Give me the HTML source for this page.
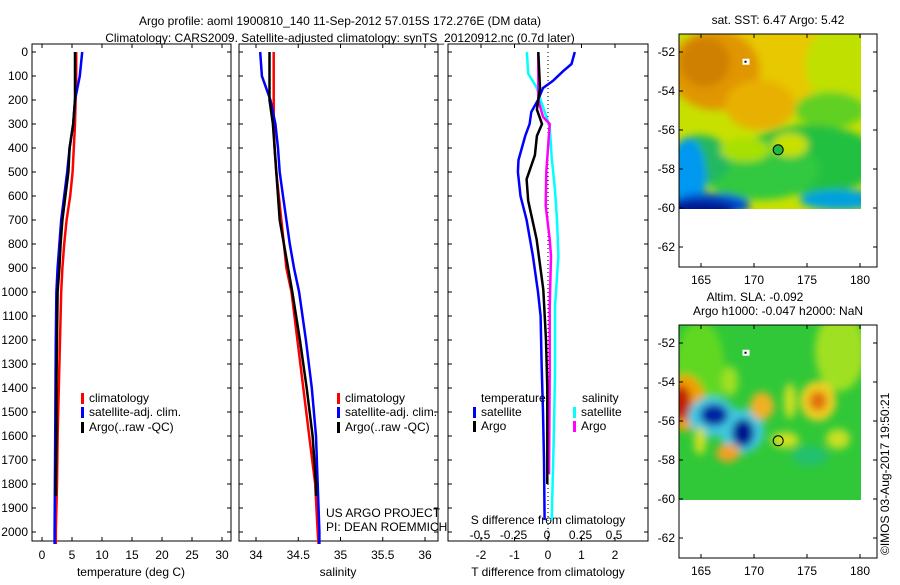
<!DOCTYPE html>
<html><head><meta charset="utf-8"><style>
html,body{margin:0;padding:0;background:#fff}
svg text{font-family:"Liberation Sans",sans-serif;font-size:12px;fill:#000}
</style></head><body>
<svg id="c" width="900" height="580" viewBox="0 0 900 580" xmlns="http://www.w3.org/2000/svg">
<defs>
<filter id="bl" x="-20%" y="-20%" width="140%" height="140%"><feGaussianBlur stdDeviation="4"/></filter>
<clipPath id="cp1"><rect x="679" y="34" width="182" height="175"/></clipPath>
<clipPath id="cp2"><rect x="679" y="325" width="182" height="175"/></clipPath>
</defs>
<text x="340" y="25" text-anchor="middle" font-size="13">Argo profile: aoml 1900810_140 11-Sep-2012 57.015S 172.276E (DM data)</text>
<text x="340" y="42" text-anchor="middle" font-size="13">Climatology: CARS2009. Satellite-adjusted climatology: synTS_20120912.nc (0.7d later)</text>
<g id="g"></g>
</svg>
<script>
// ---- data ----
var tDepth=[0,100,200,300,400,500,600,700,800,900,1000,1200,1400,1600,1800,2000,2050];
var tClim=[5.7,5.7,5.6,5.5,5.3,5.1,4.7,4.1,3.7,3.4,3.2,3.0,2.8,2.6,2.5,2.3,2.3];
var tSat=[6.7,6.3,5.5,5.2,4.6,4.2,3.7,3.2,2.9,2.6,2.4,2.3,2.25,2.2,2.15,2.1,2.1];
var argoDepth=[0,100,200,300,400,500,600,700,800,900,1000,1200,1400,1600,1800,1850];
var tArgo=[5.5,5.5,5.5,5.2,4.6,4.4,3.9,3.4,3.1,2.9,2.6,2.5,2.4,2.4,2.3,2.3];
var sClim=[34.21,34.21,34.21,34.21,34.22,34.24,34.27,34.30,34.33,34.36,34.42,34.49,34.56,34.63,34.70,34.73,34.74];
var sSat=[34.05,34.07,34.17,34.23,34.26,34.28,34.32,34.36,34.40,34.45,34.51,34.59,34.66,34.71,34.73,34.75,34.75];
var sArgo=[34.16,34.16,34.16,34.20,34.22,34.24,34.26,34.28,34.33,34.38,34.43,34.52,34.60,34.67,34.71,34.71];
var dDepth=[0,50,80,120,150,200,250,300,350,450,500,600,700,850,1000,1100,1300,1500,1700,1950];
var dTSat=[0.8,0.7,0.45,0.15,-0.15,-0.3,-0.5,-0.55,-0.68,-0.88,-0.9,-0.82,-0.64,-0.45,-0.3,-0.22,-0.19,-0.15,-0.12,-0.1];
var dTArgoDepth=[0,150,240,300,350,430,530,620,780,990,1200,1400,1800];
var dTArgo=[-0.29,-0.24,-0.33,-0.18,-0.33,-0.39,-0.64,-0.59,-0.34,-0.14,-0.06,-0.02,-0.02];
var dSSatDepth=[0,90,145,230,310,440,575,700,850,1060,1340,1620,1950];
var dSSat=[-0.15,-0.14,-0.08,-0.03,0.02,0.035,0.06,0.075,0.085,0.06,0.06,0.05,0.035];
var dSArgoDepth=[0,200,270,300,500,640,780,850,1060,1340,1760];
var dSArgo=[-0.065,-0.065,-0.03,0.02,-0.005,-0.01,0.02,0.03,0.02,0.02,0.015];
var depthTicks=[0,100,200,300,400,500,600,700,800,900,1000,1100,1200,1300,1400,1500,1600,1700,1800,1900,2000];
var tTicks=[0,5,10,15,20,25,30];
var sTicks=[34,34.5,35,35.5,36];
var sTickLabels=["34","34.5","35","35.5","36"];
var dtTicks=[-2,-1,0,1,2];
var dsTicks=[-0.5,-0.25,0,0.25,0.5];
var dsTickLabels=["-0.5","-0.25","0","0.25","0.5"];
var lonTicks=[165,170,175,180];
var latTicks=[-52,-54,-56,-58,-60,-62];
var argoLon=172.28, argoLat=-57.015;

// ---- scales ----
function yD(d){return 52+d*0.24;}
function xT(v){return 42+v*6;}
function xS(v){return 256+(v-34)*84.5;}
function xDT(v){return 548+v*33.5;}
function xDS(v){return 547+v*134;}
function xLon(v){return 754+(v-170)*10.6;}
function yLat(v,off){return 52+off+(-52-v)*19.5;}

var NS="http://www.w3.org/2000/svg", G=document.getElementById('g');
function mk(tag,at,par){var e=document.createElementNS(NS,tag);for(var k in at)e.setAttribute(k,at[k]);(par||G).appendChild(e);return e;}
function txt(x,y,s,anc,par){var e=mk('text',{x:x,y:y,'text-anchor':anc||'start'},par);e.textContent=s;return e;}

var panels=[[32,231],[239,438],[448,648]];
panels.forEach(function(p,i){
  var r=mk('rect',{x:p[0],y:44,width:p[1]-p[0],height:497,fill:'none',stroke:'#000','stroke-width':1});
  
  
  depthTicks.forEach(function(d){
    mk('line',{x1:p[0],x2:p[0]+4,y1:yD(d),y2:yD(d),stroke:'#000'});
    mk('line',{x1:p[1]-4,x2:p[1],y1:yD(d),y2:yD(d),stroke:'#000'});
  });
});
depthTicks.forEach(function(d){
  var t=txt(28,yD(d)+4,String(d),'end');
  
  
});
function xticks(ticks,labels,f,y0,lab){
  ticks.forEach(function(v,i){
    mk('line',{x1:f(v),x2:f(v),y1:541,y2:537,stroke:'#000'});
    mk('line',{x1:f(v),x2:f(v),y1:44,y2:48,stroke:'#000'});
    var t=txt(f(v),y0,labels[i],'middle');
    
    
  });
}
xticks(tTicks,tTicks.map(String),xT,559,'temperature-tick-label');
xticks(sTicks,sTickLabels,xS,559,'salinity-tick-label');
xticks(dtTicks,dtTicks.map(String),xDT,559,'t-diff-tick-label');
dsTicks.forEach(function(v,i){
  var t=txt(xDS(v),539,dsTickLabels[i],'middle');
  
  
});
var at;
at=txt(131,576,'temperature (deg C)','middle');
at=txt(338,576,'salinity','middle');
at=txt(548,576,'T difference from climatology','middle');
at=txt(548,524,'S difference from climatology','middle');
at=txt(326,517,'US ARGO PROJECT');
at=txt(326,531,'PI: DEAN ROEMMICH');

var zl=mk('line',{x1:xDT(0),x2:xDT(0),y1:52,y2:541,stroke:'#000','stroke-dasharray':'1,3'});



function line(xs,ds,fx,col,name){
  var pts=xs.map(function(v,i){return fx(v).toFixed(1)+','+yD(ds[i]).toFixed(1);}).join(' ');
  var e=mk('polyline',{points:pts,fill:'none',stroke:col,'stroke-width':2.5});
  
  
}
line(tClim,tDepth,xT,'#f00','temp-climatology-line');
line(tSat,tDepth,xT,'#00f','temp-satellite-line');
line(tArgo,argoDepth,xT,'#000','temp-argo-line');
line(sClim,tDepth,xS,'#f00','sal-climatology-line');
line(sSat,tDepth,xS,'#00f','sal-satellite-line');
line(sArgo,argoDepth,xS,'#000','sal-argo-line');
line(dSSat,dSSatDepth,xDS,'#0ff','sdiff-satellite-line');
line(dSArgo,dSArgoDepth,xDS,'#f0f','sdiff-argo-line');
line(dTSat,dDepth,xDT,'#00f','tdiff-satellite-line');
line(dTArgo,dTArgoDepth,xDT,'#000','tdiff-argo-line');

function leg(x,y,col,s,name){
  var m=mk('rect',{x:x,y:y-9,width:3,height:11,fill:col});
  
  
  var t=txt(x+8,y,s);
  
  
}
[[81,0],[337,1]].forEach(function(a){
  leg(a[0],402,'#f00','climatology','legend-climatology');
  leg(a[0],416,'#00f','satellite-adj. clim.','legend-satellite-adj');
  leg(a[0],431,'#000','Argo(..raw -QC)','legend-argo');
});
at=txt(481,402,'temperature');
at=txt(582,402,'salinity');
leg(473,416,'#00f','satellite','legend-t-satellite');
leg(473,430,'#000','Argo','legend-t-argo');
leg(573,416,'#0ff','satellite','legend-s-satellite');
leg(573,430,'#f0f','Argo','legend-s-argo');

// ---- maps ----
function mapFrame(off,title,blobs,base,dotFill,idx){
  var mg=mk('g',{});
  
  
  var hg=mk('g',{'clip-path':'url(#cp'+idx+')'},mg);
  mk('rect',{x:679,y:34+off,width:182,height:175,fill:base},hg);
  var bg=mk('g',{filter:'url(#bl)'},hg);
  blobs.forEach(function(b){mk('ellipse',{cx:b[0],cy:b[1]+off,rx:b[2],ry:b[3],fill:b[4]},bg);});
  mk('rect',{x:679,y:34+off,width:198,height:233,fill:'none',stroke:'#000'},mg);
  lonTicks.forEach(function(v){
    mk('line',{x1:xLon(v),x2:xLon(v),y1:267+off,y2:263+off,stroke:'#000'},mg);
    mk('line',{x1:xLon(v),x2:xLon(v),y1:34+off,y2:38+off,stroke:'#000'},mg);
    var t=txt(xLon(v),284+off,String(v),'middle',mg);
    
    
  });
  latTicks.forEach(function(v){
    var y=yLat(v,off);
    mk('line',{x1:679,x2:683,y1:y,y2:y,stroke:'#000'},mg);
    mk('line',{x1:873,x2:877,y1:y,y2:y,stroke:'#000'},mg);
    var t=txt(675,y+4,String(v),'end',mg);
    
    
  });
  mk('rect',{x:xLon(169.2)-3,y:yLat(-52.5,off)-3,width:7,height:6,fill:'#fff'},mg);
  mk('rect',{x:xLon(169.2)-1,y:yLat(-52.5,off)-1,width:2,height:2,fill:'#000'},mg);
  var c=mk('circle',{cx:xLon(argoLon),cy:yLat(argoLat,off),r:5,fill:dotFill,stroke:'#000','stroke-width':1},mg);
  
  
  title.forEach(function(s,i){
    var x=(idx==2&&i==0)?755:778;
    var y=(idx==1)?24:off+10+14*i;
    var t=txt(x,y,s,'middle');
    
    
  });
}
mapFrame(0,['sat. SST: 6.47 Argo: 5.42'],[
 [770,70,110,45,'#e8c800'],[715,70,45,40,'#e09600'],[705,62,25,25,'#d08000'],[760,105,35,25,'#e8b000'],
 [840,65,35,40,'#c0e000'],[830,110,35,18,'#60d020'],[810,160,70,35,'#20c040'],[760,170,60,30,'#30c840'],
 [700,160,30,25,'#20b860'],[688,178,18,40,'#0098f0'],[710,205,40,12,'#0050d0'],[700,210,35,10,'#001890'],
 [840,200,40,10,'#00a0e0'],[745,150,25,12,'#a8e000'],[790,145,18,12,'#c8e000']
],'#c8e000','#20b840',1);
mapFrame(291,['Altim. SLA: -0.092','Argo h1000: -0.047 h2000: NaN'],[
 [700,80,25,50,'#60d820'],[840,60,25,40,'#a0e020'],[818,110,18,20,'#f0d020'],[818,110,9,10,'#e07010'],
 [685,112,20,28,'#f0a000'],[681,112,10,18,'#c02000'],[712,126,24,20,'#40c8e0'],[742,140,22,22,'#40c8e0'],
 [714,124,14,11,'#0020a0'],[743,142,11,14,'#001890'],[762,115,12,14,'#f0b020'],
 [728,162,12,9,'#f0a020'],[700,150,6,14,'#d0e020'],[785,149,14,8,'#d0e020'],[838,148,12,10,'#c8e020'],
 [790,110,6,18,'#d0e020'],[730,90,8,15,'#a0e020'],[810,165,18,10,'#20c070']
],'#30c838','none',2);
var cr=txt(0,0,'©IMOS 03-Aug-2017 19:50:21','start');
cr.setAttribute('transform','translate(889,555) rotate(-90)');


</script>
</body></html>
